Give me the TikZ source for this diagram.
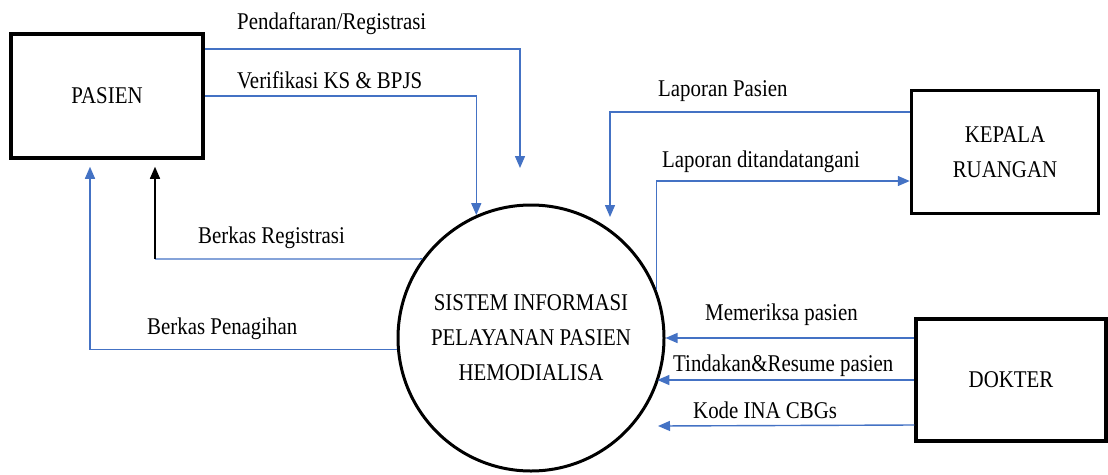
\documentclass[tikz,border=0pt]{standalone}
\usepackage{fontspec}
\setmainfont[FakeStretch=0.87]{Liberation Serif}
\usepackage{tikz}
\usetikzlibrary{arrows.meta}
\definecolor{flowblue}{RGB}{68,114,196}
\tikzstyle{entity}=[rectangle, draw, line width=3.5pt, inner sep=0pt, align=center]
\tikzstyle{process}=[circle, draw, line width=3pt, minimum size=266pt, inner sep=0pt, align=center]
\tikzstyle{line}=[draw=flowblue, line width=1.4pt]
\tikzstyle{flow}=[line, -{Triangle[length=12pt, width=10pt]}]
\tikzstyle{flowblack}=[draw=black, line width=1.4pt, -{Triangle[length=12pt, width=10pt]}]
\tikzstyle{lbl}=[anchor=base west, inner sep=0pt]

\begin{document}
\begin{tikzpicture}[x=1pt, y=-1pt, font=\fontsize{24}{35}\selectfont]
    \useasboundingbox (0,0) rectangle (1108,474);
    \node[entity, minimum width=192pt, minimum height=124pt] (pasien) at (107, 96) {PASIEN};
    \node[entity, minimum width=187pt, minimum height=123pt] (kepala) at (1005, 152) {KEPALA\\RUANGAN};
    \node[entity, minimum width=190pt, minimum height=122pt] (dokter) at (1011, 380) {DOKTER};
    \node[process] (sistem) at (531, 338) {SISTEM INFORMASI\\PELAYANAN PASIEN\\HEMODIALISA};
    \coordinate (daftar) at (520, 168);
    \coordinate (regis)  at (155, 259);
    \coordinate (lapor)  at (610, 217);
    \coordinate (kode)   at (658, 426);
    \draw[flow] ([yshift=47pt]pasien.east) -| (daftar);
    \draw[flow] (pasien.east) -| (sistem.114);
    \draw[line] (sistem.144) -- (regis);
    \draw[flowblack, shorten >=7pt] (regis) -- (regis |- pasien.south);
    \draw[flow, shorten >=7pt] (sistem.185) -| ([xshift=-17pt]pasien.south);
    \draw[flow] ([yshift=40pt]kepala.west) -| (lapor);
    \draw[flow] (sistem.21) |- ([yshift=-29pt]kepala.west);
    \draw[flow] (dokter.west |- sistem.east) -- (sistem.east);
    \draw[flow] (dokter.west) -- (sistem.-20 |- dokter.west);
    \draw[flow] ([yshift=-45pt]dokter.west) -- (kode);
    \node[lbl] (l1) at (237, 29)  {Pendaftaran/Registrasi};
    \node[lbl] (l2) at (237, 88)  {Verifikasi KS \& BPJS};
    \node[lbl] (l3) at (198, 243) {Berkas Registrasi};
    \node[lbl] (l4) at (147, 334) {Berkas Penagihan};
    \node[lbl] (l5) at (658, 96)  {Laporan Pasien};
    \node[lbl] (l6) at (662, 167) {Laporan ditandatangani};
    \node[lbl] (l7) at (705, 320) {Memeriksa pasien};
    \node[lbl] (l8) at (673, 371) {Tindakan\&Resume pasien};
    \node[lbl] (l9) at (693, 418) {Kode INA CBGs};
\end{tikzpicture}
\end{document}
